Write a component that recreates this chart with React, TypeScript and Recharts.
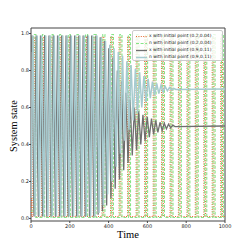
import { LineChart, Line, XAxis, YAxis, ReferenceArea } from "recharts";

// x, n starting from (0.2, 0.04): keeps switching between ~0 and ~1
const x1Time = [0, 3, 10, 19, 55, 64, 99, 108, 144, 153, 188, 197, 233, 242, 277, 286, 321, 330, 366, 375, 410, 419, 454, 463, 498, 507, 542, 551, 586, 595, 630, 639, 673, 682, 717, 726, 760, 769, 804, 813, 847, 856, 891, 900, 934, 943, 978, 987, 1000];
const x1Value = [0.2, 0.01, 0.98, 0.01, 0.98, 0.01, 0.98, 0.01, 0.98, 0.01, 0.98, 0.01, 0.98, 0.01, 0.98, 0.01, 0.98, 0.01, 0.98, 0.01, 0.98, 0.01, 0.98, 0.01, 0.98, 0.01, 0.98, 0.01, 0.98, 0.01, 0.98, 0.01, 0.98, 0.01, 0.98, 0.01, 0.98, 0.01, 0.98, 0.01, 0.98, 0.01, 0.98, 0.01, 0.98, 0.01, 0.98, 0.01, 0.01];
const n1Time = [0, 14, 25, 59, 70, 103, 114, 148, 159, 192, 203, 237, 248, 281, 292, 325, 336, 370, 381, 414, 425, 458, 469, 502, 513, 546, 557, 590, 601, 634, 645, 677, 688, 721, 732, 764, 775, 808, 819, 851, 862, 895, 906, 938, 949, 982, 993, 1000];
const n1Value = [0.04, 0.995, 0.005, 0.995, 0.005, 0.995, 0.005, 0.995, 0.005, 0.995, 0.005, 0.995, 0.005, 0.995, 0.005, 0.995, 0.005, 0.995, 0.005, 0.995, 0.005, 0.995, 0.005, 0.995, 0.005, 0.995, 0.005, 0.995, 0.005, 0.995, 0.005, 0.995, 0.005, 0.995, 0.005, 0.995, 0.005, 0.995, 0.005, 0.995, 0.005, 0.995, 0.005, 0.995, 0.005, 0.995, 0.005, 0.005];

// x, n starting from (0.9, 0.11): damped, settles at 0.5 and 0.7  [time, value]
const x2Points: [number, number][] = [
  [0, 0.9], [5, 0.99], [16, 0.01], [27, 0.99], [38, 0.01], [49, 0.99], [60, 0.01], [71, 0.99], [82, 0.01], [93, 0.99],
  [104, 0.01], [115, 0.99], [126, 0.01], [137, 0.99], [148, 0.01], [159, 0.99], [170, 0.01], [181, 0.99], [192, 0.01],
  [203, 0.99], [214, 0.01], [225, 0.99], [236, 0.01], [247, 0.99], [258, 0.01], [269, 0.99], [280, 0.01], [291, 0.99],
  [302, 0.01], [313, 0.99], [324, 0.01], [335, 0.99], [346, 0.02], [357, 0.98], [368, 0.04], [379, 0.96], [390, 0.07],
  [401, 0.92], [412, 0.11], [423, 0.87], [434, 0.16], [445, 0.8], [456, 0.21], [467, 0.74], [478, 0.26], [489, 0.68],
  [500, 0.3], [511, 0.64], [522, 0.34], [533, 0.6], [544, 0.37], [555, 0.58], [566, 0.4], [577, 0.56], [588, 0.42],
  [599, 0.55], [610, 0.44], [621, 0.54], [632, 0.455], [643, 0.53], [654, 0.465], [665, 0.52], [676, 0.475], [687, 0.515],
  [698, 0.485], [709, 0.51], [720, 0.49], [731, 0.505], [742, 0.497], [1000, 0.5],
];
const n2Points: [number, number][] = [
  [0, 0.11], [10, 0.99], [21, 0.01], [32, 0.99], [43, 0.01], [54, 0.99], [65, 0.01], [76, 0.99], [87, 0.01], [98, 0.99],
  [109, 0.01], [120, 0.99], [131, 0.01], [142, 0.99], [153, 0.01], [164, 0.99], [175, 0.01], [186, 0.99], [197, 0.01],
  [208, 0.99], [219, 0.01], [230, 0.99], [241, 0.01], [252, 0.99], [263, 0.01], [274, 0.99], [285, 0.01], [296, 0.99],
  [307, 0.01], [318, 0.99], [329, 0.01], [340, 0.99], [351, 0.03], [362, 0.98], [373, 0.07], [384, 0.96], [395, 0.13],
  [406, 0.94], [417, 0.2], [428, 0.92], [439, 0.28], [450, 0.9], [461, 0.35], [472, 0.88], [483, 0.42], [494, 0.85],
  [505, 0.48], [516, 0.83], [527, 0.53], [538, 0.81], [549, 0.57], [560, 0.79], [571, 0.6], [582, 0.77], [593, 0.63],
  [604, 0.755], [615, 0.65], [626, 0.74], [637, 0.665], [648, 0.73], [659, 0.675], [670, 0.72], [681, 0.685], [692, 0.713],
  [703, 0.69], [714, 0.708], [725, 0.695], [736, 0.703], [747, 0.698], [1000, 0.7],
];

const xTicks = [0, 200, 400, 600, 800, 1000];
const yTicks = [0, 0.2, 0.4, 0.6, 0.8, 1.0];

const toPoints = (t: number[], v: number[]) => t.map((time, i) => ({ t: time, v: v[i] }));
const fromPairs = (p: [number, number][]) => p.map(([t, v]) => ({ t, v }));

const series = [
  { name: "x with initial point (0.2,0.04)", data: toPoints(x1Time, x1Value), color: "#e5662b", dash: "1 1.4", width: 1.1, type: "stepAfter" },
  { name: "n with initial point (0.2,0.04)", data: toPoints(n1Time, n1Value), color: "#86e586", dash: "3 1.6", width: 1.1, type: "stepAfter" },
  { name: "x with initial point (0.9,0.11)", data: fromPairs(x2Points), color: "#6f6f6f", dash: undefined, width: 1.3, type: "linear" },
  { name: "n with initial point (0.9,0.11)", data: fromPairs(n2Points), color: "#a7cbd0", dash: undefined, width: 1.5, type: "linear" },
];

const tickStyle = { fill: "#222", fontSize: 5, fontFamily: "DejaVu Sans" };

export default function App() {
  return (
    <div style={{ position: "absolute", left: 0, top: 0, width: 250, height: 250, background: "#fff" }}>
      <LineChart width={250} height={250} margin={{ top: 28, right: 25, left: 8, bottom: 0 }}>
        <XAxis
          type="number"
          dataKey="t"
          domain={[0, 1000]}
          ticks={xTicks}
          allowDataOverflow
          height={29}
          tick={tickStyle}
          tickSize={2}
          tickMargin={1}
          axisLine={false}
          stroke="#444"
        />
        <YAxis
          type="number"
          domain={[-0.014, 1.03]}
          ticks={yTicks}
          allowDataOverflow
          width={23}
          tick={tickStyle}
          tickSize={2}
          tickMargin={0}
          axisLine={false}
          stroke="#444"
          tickFormatter={(v: number) => v.toFixed(1)}
        />
        {series.map((s) => (
          <Line
            key={s.name}
            data={s.data}
            dataKey="v"
            type={s.type as any}
            stroke={s.color}
            strokeWidth={s.width}
            strokeDasharray={s.dash}
            dot={false}
            isAnimationActive={false}
          />
        ))}
        <ReferenceArea x1={0} x2={1000} y1={-0.014} y2={1.03} fill="none" stroke="#444" strokeWidth={1} />
      </LineChart>

      <div
        style={{
          position: "absolute", left: 132, top: 30, width: 91, height: 31, boxSizing: "border-box",
          background: "rgba(255,255,255,0.8)", border: "0.8px solid #ccc", borderRadius: 2, paddingTop: 1.5,
        }}
      >
        {series.map((s) => (
          <div key={s.name} style={{ display: "flex", alignItems: "center", height: 7 }}>
            <svg width={14} height={7} style={{ flex: "none", marginLeft: 2 }}>
              <line x1={1} x2={12} y1={3.5} y2={3.5} stroke={s.color} strokeWidth={s.width} strokeDasharray={s.dash} />
            </svg>
            <span style={{ fontFamily: "DejaVu Sans", fontSize: 4.4, color: "#222", whiteSpace: "nowrap", lineHeight: 1 }}>{s.name}</span>
          </div>
        ))}
      </div>

      <div
        style={{
          position: "absolute", left: 14, top: 126, transform: "translate(-50%,-50%) rotate(-90deg)",
          fontFamily: "Liberation Serif", fontSize: 10.3, lineHeight: 1, whiteSpace: "nowrap", color: "#000",
        }}
      >
        System state
      </div>
      <div
        style={{
          position: "absolute", left: 128, top: 230, transform: "translateX(-50%)",
          fontFamily: "Liberation Serif", fontSize: 10.5, lineHeight: 1, whiteSpace: "nowrap", color: "#000",
        }}
      >
        Time
      </div>
    </div>
  );
}
